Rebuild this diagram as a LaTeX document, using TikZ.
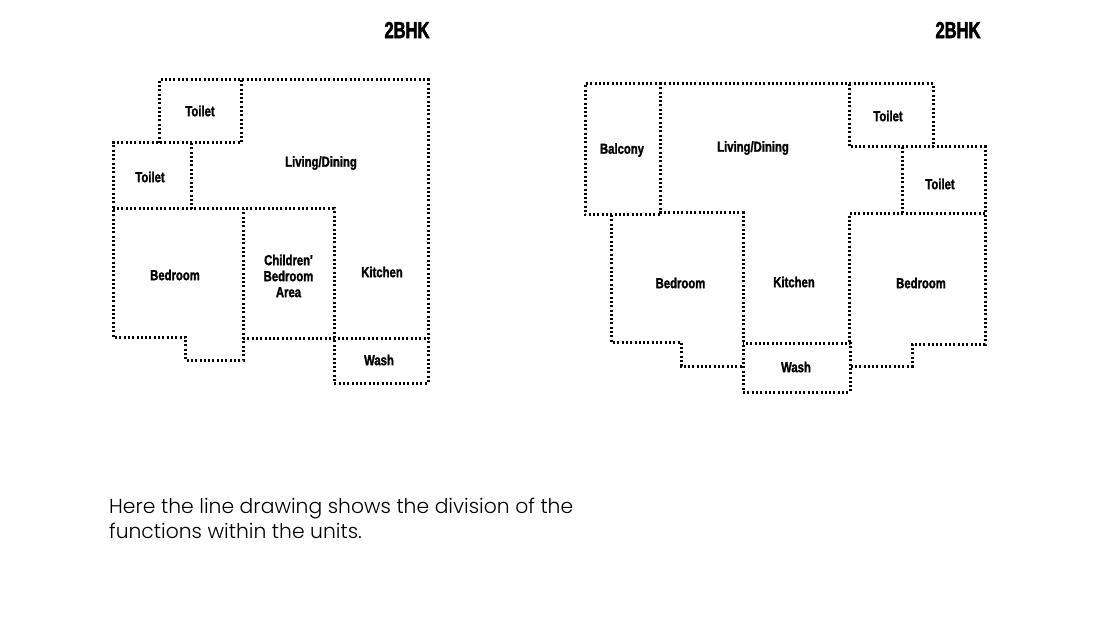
\documentclass[tikz,border=0pt]{standalone}
\usepackage{fontspec}
\usepackage{tikz}
\newfontfamily\planfont[FakeStretch=0.78,FakeBold=1.6]{Liberation Sans Bold}
\newfontfamily\titlefont[FakeStretch=0.72,FakeBold=2.4]{Liberation Sans Bold}
\newfontfamily\notefont[UprightFont=* Light]{Poppins}
\tikzset{wall/.style={draw, line width=3pt, dash pattern=on 2pt off 2.3pt}}
\tikzset{roomLabel/.style={font=\planfont\fontsize{14.5}{16}\selectfont, align=center, inner sep=0pt}}
\tikzset{planTitle/.style={font=\titlefont\fontsize{23}{26}\selectfont, inner sep=0pt}}
\tikzset{noteLine/.style={font=\notefont\fontsize{20.3}{25}\selectfont, anchor=base west, inner sep=0pt}}

\begin{document}
\begin{tikzpicture}[x=1pt, y=-1pt]
\useasboundingbox (0, 0) rectangle (1120, 631);

% left unit
\draw[wall] (159, 143) -- (159, 80) -- (428, 80) -- (428, 383) -- (334, 383) -- (334, 209) -- (113, 209);
\draw[wall] (241, 80) -- (241, 143) -- (113, 143) -- (113, 337) -- (185, 337) -- (185, 360) -- (243, 360) -- (243, 209);
\draw[wall] (191, 143) -- (191, 209);
\draw[wall] (243, 338) -- (428, 338);

% right unit
\draw[wall] (660, 214) -- (660, 84) -- (585, 84) -- (585, 215) -- (660, 215) -- (660, 213) -- (743, 213) -- (743, 392) -- (850, 392) -- (850, 343) -- (743, 343);
\draw[wall] (660, 84) -- (933, 84) -- (933, 147);
\draw[wall] (849, 84) -- (849, 147) -- (985, 147) -- (985, 344) -- (912, 344) -- (912, 366) -- (850, 366);
\draw[wall] (902, 147) -- (902, 214);
\draw[wall] (985, 214) -- (849, 214) -- (849, 343);
\draw[wall] (611, 215) -- (611, 342) -- (681, 342) -- (681, 366) -- (743, 366);

\node[planTitle] (titleA) at (407, 30) {2BHK};
\node[roomLabel] (toiletA) at (200, 111) {Toilet};
\node[roomLabel] (toiletB) at (150, 177) {Toilet};
\node[roomLabel] (livingA) at (321, 163) {Living/Dining};
\node[roomLabel] (bedA) at (175, 275) {Bedroom};
\node[roomLabel] (childA) at (288.5, 276) {Children'\\Bedroom\\Area};
\node[roomLabel] (kitchenA) at (382, 272) {Kitchen};
\node[roomLabel] (washA) at (379, 360) {Wash};

\node[planTitle] (titleB) at (958, 30) {2BHK};
\node[roomLabel] (balconyB) at (622, 150) {Balcony};
\node[roomLabel] (livingB) at (753, 148) {Living/Dining};
\node[roomLabel] (toiletC) at (888, 116) {Toilet};
\node[roomLabel] (toiletD) at (940, 184) {Toilet};
\node[roomLabel] (bedB) at (680.5, 283) {Bedroom};
\node[roomLabel] (kitchenB) at (794, 282) {Kitchen};
\node[roomLabel] (bedC) at (921, 283) {Bedroom};
\node[roomLabel] (washB) at (796, 367) {Wash};

\node[noteLine] (noteA) at (109, 513) {Here the line drawing shows the division of the};
\node[noteLine] (noteB) at (109, 538) {functions within the units.};

\end{tikzpicture}
\end{document}
